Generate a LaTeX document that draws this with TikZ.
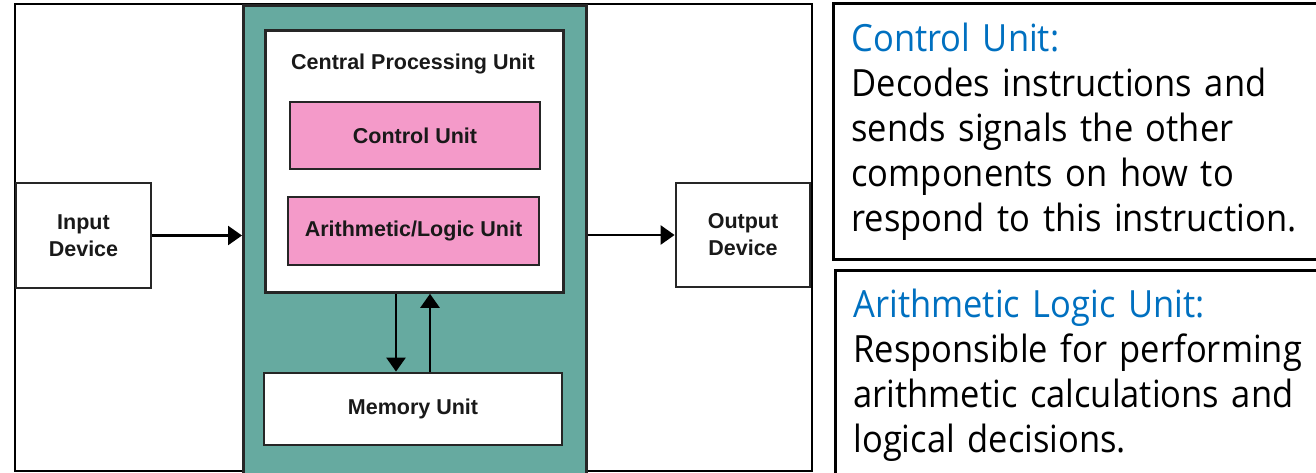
\documentclass[tikz,border=0pt]{standalone}
\usepackage{fontspec}
\setsansfont{Liberation Sans}
\newfontfamily\notefont[FakeStretch=0.92]{Open Sans}
\usepackage{xcolor}
\usepackage{tikz}
\usetikzlibrary{positioning,arrows.meta}

\definecolor{cputeal}{RGB}{102,170,160}
\definecolor{unitpink}{RGB}{244,154,201}
\definecolor{headblue}{RGB}{0,112,192}

\begin{document}
\begin{tikzpicture}[x=1pt, y=-1pt,
    boldlabel/.style={font=\sffamily\bfseries\fontsize{21.5}{27}\selectfont, align=center, text=black!90},
    unit/.style={boldlabel, draw=black!85, line width=2.8pt, inner sep=0pt},
    flow/.style={line width=2.6pt, -{Triangle[length=14pt,width=19pt]}},
    note/.style={draw, line width=3pt, anchor=north west, align=left, inner xsep=18pt,
      text width=464pt, font=\notefont\fontsize{37.5}{45}\selectfont}]
  \useasboundingbox (0,0) rectangle (1316,472);

  % outer frame of the block diagram
  \node[draw, line width=2pt, inner sep=0pt, anchor=north west,
    minimum width=797pt, minimum height=467pt] (frame) at (14,3) {};

  % cpu panel
  \node[draw=black!85, fill=cputeal, line width=3pt, inner sep=0pt, anchor=north west,
    minimum width=343pt, minimum height=475pt] (panel) at (242,4) {};
  \node[unit, fill=white, anchor=north west,
    minimum width=298pt, minimum height=262pt] (cpu) at (264,29) {};
  \node[boldlabel] (cputitle) at (413,64) {Central Processing Unit};
  \node[unit, fill=unitpink, minimum width=250pt, minimum height=67pt] (ctrl) at (415,135.5) {Control Unit};
  \node[unit, fill=unitpink, minimum width=251pt, minimum height=68pt] (alu) at (413.5,231) {Arithmetic/Logic Unit};
  \node[unit, fill=white, minimum width=298pt, minimum height=72pt] (mem) at (413,409) {Memory Unit};

  % input and output devices
  \node[unit, fill=white, minimum width=135pt, minimum height=105pt] (input) at (83.5,235.5) {Input\\Device};
  \node[unit, fill=white, minimum width=134pt, minimum height=104pt] (output) at (743,235) {Output\\Device};

  \draw[flow] (input.east) -- (input.east -| panel.west);
  \draw[flow] (output.west -| panel.east) -- (output.west);

  % cpu <-> memory
  \coordinate (rd) at (396,0);
  \coordinate (wr) at (430,0);
  \draw[flow] (cpu.south -| rd) -- (mem.north -| rd);
  \draw[flow] (mem.north -| wr) -- (cpu.south -| wr);

  % notes
  \node[note, minimum height=256pt] (cunote) at (832,2)
    {\textcolor{headblue}{Control Unit:}\\
     Decodes instructions and\\
     sends signals the other\\
     components on how to\\
     respond to this instruction.};
  \node[note, minimum height=210pt] (alunote) at (834,269)
    {\textcolor{headblue}{Arithmetic Logic Unit:}\\
     Responsible for performing\\
     arithmetic calculations and\\
     logical decisions.};
\end{tikzpicture}
\end{document}
